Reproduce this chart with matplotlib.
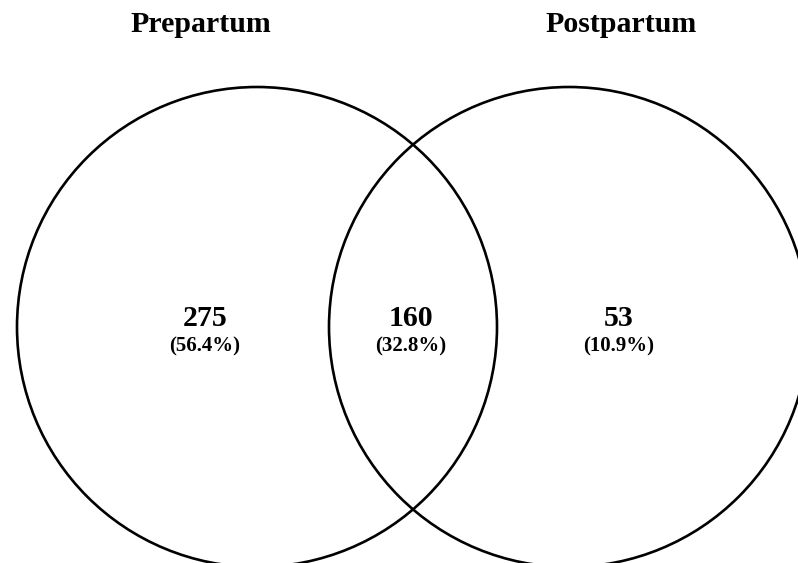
import matplotlib
matplotlib.use("Agg")
import matplotlib.pyplot as plt
from matplotlib.patches import Circle

# Data
set_names = ["Prepartum", "Postpartum"]
region_labels = ["Prepartum only", "Both", "Postpartum only"]
region_counts = [275, 160, 53]

total = sum(region_counts)
region_pcts = [100.0 * c / total for c in region_counts]

W, H = 798, 563
fig = plt.figure(figsize=(W / 100, H / 100), dpi=100)
ax = fig.add_axes([0, 0, 1, 1])
ax.set_xlim(0, W)
ax.set_ylim(H, 0)
ax.set_aspect("equal")
ax.axis("off")

# circle layout (pixel-like coordinates)
centers = [(257, 327), (569, 327)]
radius = 240
for c in centers:
    ax.add_patch(Circle(c, radius, fill=False, edgecolor="black", linewidth=1.9))

font = dict(family="Liberation Serif", weight="bold", color="black")

title_x = [201, 621]
for name, x in zip(set_names, title_x):
    ax.text(x, 32, name, ha="center", va="baseline", fontsize=21.5, **font)

label_x = [205, 411, 619]
for x, n, p in zip(label_x, region_counts, region_pcts):
    ax.text(x, 326, f"{n}", ha="center", va="baseline", fontsize=21.5, **font)
    ax.text(x, 351, f"({p:.1f}%)", ha="center", va="baseline", fontsize=15, **font)

fig.savefig("out.png", dpi=100, facecolor="white")
